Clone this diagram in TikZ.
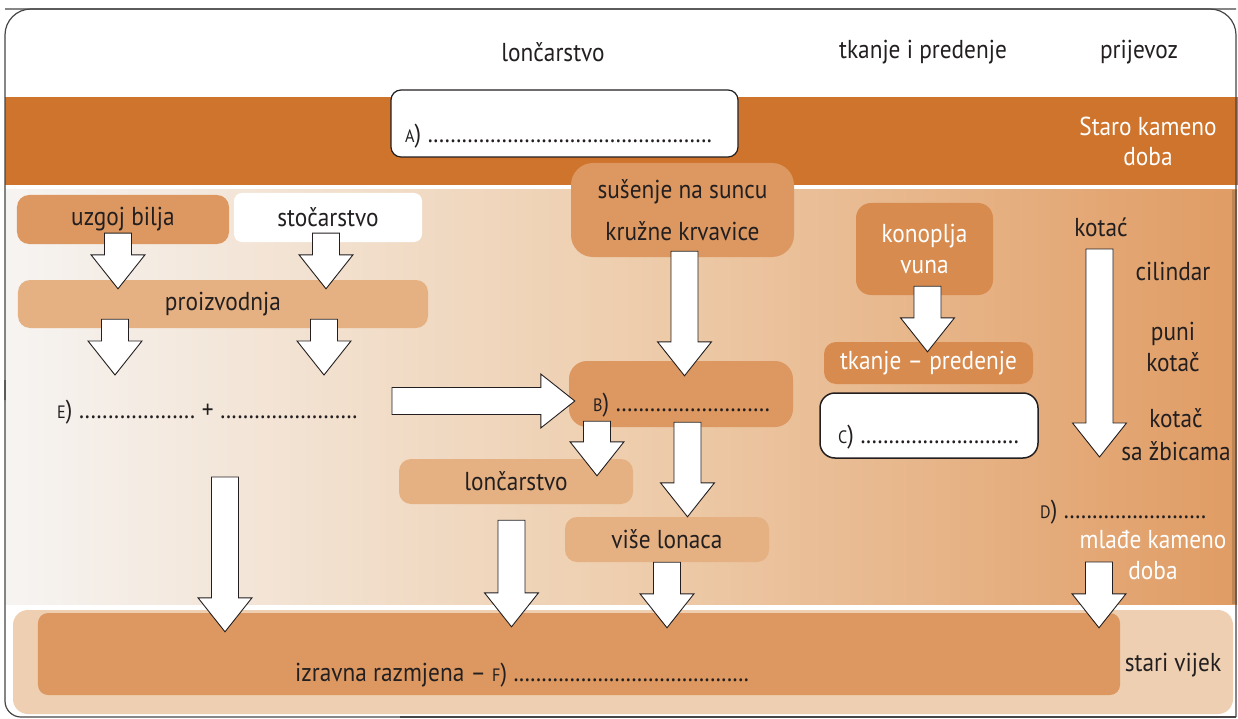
\documentclass[tikz,border=0pt]{standalone}
\usepackage{fontspec}
\setmainfont{PT Sans}[FakeStretch=0.9]
\usetikzlibrary{calc}
\definecolor{ink}{RGB}{35,31,32}
\definecolor{band}{RGB}{207,116,45}
\definecolor{boxdark}{RGB}{220,152,96}
\definecolor{boxlight}{RGB}{229,177,130}
\definecolor{boxdeep}{RGB}{216,139,78}
\definecolor{gleft}{RGB}{246,244,242}
\definecolor{gmid}{RGB}{238,206,174}
\definecolor{gright}{RGB}{224,156,100}
\definecolor{bandlow}{RGB}{238,207,177}
\definecolor{framec}{RGB}{70,70,70}
\newcommand\lab[1]{{\fontsize{18}{18}\selectfont #1})}
\newcommand\dotsw[1]{\hbox to #1{\xleaders\hbox to 5.6bp{\hss.\hss}\hfill}}
\tikzset{
  txt/.style={font=\fontsize{26}{30}\selectfont, text=ink, inner sep=0pt},
  wtxt/.style={txt, text=white},
  rbox/.style={inner sep=0pt, rounded corners=#1, font=\fontsize{26}{30}\selectfont, text=ink, align=center},
  rbox/.default=12bp,
  barrow/.style={fill=white, draw=ink, line width=0.9bp, line join=miter,
    to path={let \p1=($(\tikztotarget)!34bp!(\tikztostart)$) in
      ($(\tikztostart)!13.5bp!90:(\tikztotarget)$) --
      ($(\p1)!13.5bp!90:(\tikztotarget)$) --
      ($(\p1)!27bp!90:(\tikztotarget)$) --
      (\tikztotarget) --
      ($(\p1)!27bp!-90:(\tikztotarget)$) --
      ($(\p1)!13.5bp!-90:(\tikztotarget)$) --
      ($(\tikztostart)!13.5bp!-90:(\tikztotarget)$) -- cycle}},
}
\begin{document}
\begin{tikzpicture}[x=1bp,y=-1bp]
\useasboundingbox (0,0) rectangle (1238,719);
% backgrounds
\fill[white] (0,0) rectangle (1238,719);
\fill[band] (5,97) rectangle (1238,185);
\shade[left color=gleft, right color=gright, middle color=gmid] (5,190) rectangle (1237,604);
\fill[gright!85!black] (1232,190) rectangle (1237,604);
\fill[bandlow, rounded corners=15bp] (13,610) rectangle (1233,714);
\node[rbox=10bp, fill=boxdark, minimum width=1082bp, minimum height=82bp] (inner) at (579,654) {};
\draw[framec, line width=1.2bp, rounded corners=26bp] (5,9) -- (1236,9) -- (1236,717);
\draw[framec, line width=1.2bp, rounded corners=26bp] (1236,9) -- (5,9) -- (5,400);
\draw[framec, line width=1.2bp, rounded corners=16bp] (5,380) -- (5,717) -- (400,717);
\draw[framec, line width=1.2bp] (400,717) -- (1236,717);

% header
\node[txt] (h1) at (553,52) {lončarstvo};
\node[txt] (h2) at (923,52) {tkanje i predenje};
\node[txt] (h3) at (1139,52) {prijevoz};
\node[wtxt, align=center, font=\fontsize{26}{30}\selectfont] (staro) at (1148,141) {Staro kameno\\doba};

% A box
\node[rbox=10bp, fill=white, draw=ink, line width=1.2bp, minimum width=347bp, minimum height=67bp] (abox) at (564.5,123.5) {};
\node[txt, anchor=west] (atext) at (405,136) {\lab{A} \dotsw{285bp}};

% left
\node[rbox, fill=boxdark, minimum width=212bp, minimum height=49bp] (uzgoj) at (123,219.5) {uzgoj bilja};
\node[rbox=8bp, fill=white, minimum width=188bp, minimum height=49bp] (stoc) at (328,217.5) {stočarstvo};
\node[rbox, fill=boxlight, minimum width=410bp, minimum height=48bp] (proiz) at (223,304) {proizvodnja};
\node[txt, anchor=west] (etext) at (57,412) {\lab{E} \dotsw{117bp} + \dotsw{138bp}};

% middle
\node[rbox=22bp, fill=boxdark, minimum width=223bp, minimum height=94bp, font=\fontsize{26}{42}\selectfont] (sus) at (682.5,210) {sušenje na suncu\\kružne krvavice};
\node[rbox=18bp, fill=boxdark, minimum width=224bp, minimum height=66bp] (bbox) at (681,394) {};
\node[txt, anchor=west] (btext) at (593,405) {\lab{B} \dotsw{155bp}};
\node[rbox, fill=boxlight, minimum width=234bp, minimum height=45bp] (lonc) at (516,481.5) {lončarstvo};
\node[rbox, fill=boxlight, minimum width=204bp, minimum height=45bp] (vise) at (667,539.5) {više lonaca};

% weaving
\node[rbox=15bp, fill=boxdeep, text=white, minimum width=137bp, minimum height=92bp, font=\fontsize{26}{31}\selectfont] (konop) at (924.5,249) {konoplja\\vuna};
\node[rbox, fill=boxdeep, text=white, minimum width=209bp, minimum height=42bp] (tkanje) at (928.5,363) {tkanje – predenje};
\node[rbox=15bp, fill=white, draw=ink, line width=1.5bp, minimum width=218bp, minimum height=65bp] (cbox) at (929,425.5) {};
\node[txt, anchor=west] (ctext) at (838,437) {\lab{C} \dotsw{159bp}};

% transport
\node[txt] (kotac) at (1101,227) {kotać};
\node[txt] (cil) at (1173,271) {cilindar};
\node[txt, align=center, font=\fontsize{26}{31}\selectfont] (puni) at (1173,347) {puni\\kotač};
\node[txt, align=center, font=\fontsize{26}{33}\selectfont] (zbice) at (1176,435) {kotač\\sa žbicama};
\node[txt, anchor=west] (dtext) at (1040,512) {\lab{D} \dotsw{143bp}};
\node[wtxt, align=center, font=\fontsize{26}{31}\selectfont] (mlade) at (1153,555) {mlađe kameno\\doba};
\coordinate (kend) at (1099.5,457);

% bottom
\node[txt, anchor=west] (ftext) at (295,675) {izravna razmjena – \lab{F} \dotsw{236bp}};
\node[txt] (stari) at (1173,665) {stari vijek};

% arrows
\draw[barrow] ($(uzgoj.south)+(-5,-11)$) to ($(proiz.north)+(-105,9)$);
\draw[barrow] ($(stoc.south)+(-2,-9)$) to ($(proiz.north)+(103,9)$);
\draw[barrow] ($(proiz.south)+(-108,-9)$) to ($(etext.west)+(58,-37)$);
\draw[barrow] ($(proiz.south)+(101,-9)$) to ($(etext.west)+(267,-37)$);
\draw[barrow] ($(etext.west)+(335,-11)$) to ($(bbox.west)+(6,7)$);
\draw[barrow] ($(sus.south)+(2,-6)$) to ($(bbox.north)+(3.5,15)$);
\draw[barrow] ($(bbox.south)+(-84,-6)$) to ($(lonc.north)+(81,17)$);
\draw[barrow] ($(bbox.south)+(6.5,-5)$) to ($(vise.north)+(20.5,0)$);
\draw[barrow] ($(etext.west)+(168,65)$) to ($(inner.north)+(-354,19)$);
\draw[barrow] ($(lonc.south)+(-4.5,16)$) to ($(inner.north)+(-67.5,14)$);
\draw[barrow] (vise.south) to ($(inner.north)+(88,15)$);
\draw[barrow] ($(konop.south)+(3,-9)$) to ($(tkanje.north)+(-1,10)$);
\draw[barrow] ($(kotac.center)+(-1.5,22)$) to (kend);
\draw[barrow] ($(dtext.west)+(59,50)$) to ($(inner.north)+(520,15)$);
\end{tikzpicture}
\end{document}
